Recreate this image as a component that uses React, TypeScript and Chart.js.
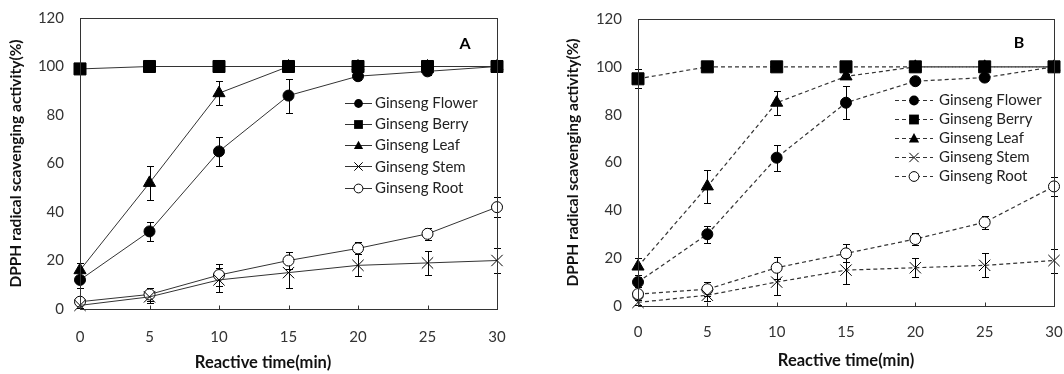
import React, { useEffect, useRef } from 'react';
import { Chart, registerables } from 'chart.js';

Chart.register(...registerables);

// ---------- data ----------
const times = [0, 5, 10, 15, 20, 25, 30];
const xTicks = [0, 5, 10, 15, 20, 25, 30];
const yTicks = [0, 20, 40, 60, 80, 100, 120];
const seriesNames = ['Ginseng Flower', 'Ginseng Berry', 'Ginseng Leaf', 'Ginseng Stem', 'Ginseng Root'];

// Panel A (solid lines)
const flowerA = [12, 32, 65, 88, 96, 98, 100];
const flowerErrA = [3.5, 4, 6, 7, 1.5, 1.5, 0.5];
const berryA = [99, 100, 100, 100, 100, 100, 100];
const berryErrA = [0.5, 0, 0, 0, 0, 0, 0];
const leafA = [16, 52, 89, 100, 100, 100, 100];
const leafErrA = [3, 7, 5, 0.5, 0, 0, 0];
const stemA = [1.5, 5, 12, 15, 18, 19, 20];
const stemErrA = [1, 2.5, 5, 6.5, 4.5, 5, 5];
const rootA = [3, 6, 14, 20, 25, 31, 42];
const rootErrA = [1, 2.5, 4.5, 3.5, 2.5, 2.5, 4];

// Panel B (dashed lines)
const flowerB = [10, 30, 62, 85, 94, 95.5, 100];
const flowerErrB = [2, 3.5, 5.5, 7, 1.5, 1.5, 0.5];
const berryB = [95, 100, 100, 100, 100, 100, 100];
const berryErrB = [4, 0, 0, 0, 0, 0, 0];
const leafB = [16.5, 50, 85, 96, 100, 100, 100];
const leafErrB = [3.5, 7, 5, 1, 0, 0, 0];
const stemB = [1.5, 4.5, 10, 15, 16, 17, 19];
const stemErrB = [1, 2.5, 5.5, 6, 4, 5, 5];
const rootB = [5, 7, 16, 22, 28, 35, 50];
const rootErrB = [1, 3, 4.6, 3.8, 2.6, 2.8, 4];

type Marker = 'dot' | 'square' | 'triangle' | 'x' | 'ring';
const markers: Marker[] = ['dot', 'square', 'triangle', 'x', 'ring'];

const FONT = 'Lato, "Open Sans", sans-serif';
const LINE = '#333333';
const TEXT = '#333333';

interface PanelCfg {
  left: number;
  width: number;
  padTop: number;
  padRight: number;
  padBottom: number;
  padLeft: number;
  xLabelDy: number;
  yLabelDx: number;
  dashed: boolean;
  letter: string;
  letterX: number;
  letterY: number;
  legX0: number;
  legX1: number;
  legTx: number;
  legY0: number;
  legDy: number;
  legMark: number;
  xTitleX: number;
  xTitleY: number;
  yTitleX: number;
  values: number[][];
  errors: number[][];
}

const panelA: PanelCfg = {
  left: 0, width: 530, padTop: 18, padRight: 33, padBottom: 65, padLeft: 80,
  xLabelDy: 28, yLabelDx: 16, dashed: false,
  letter: 'A', letterX: 465, letterY: 44,
  legX0: 345, legX1: 372, legTx: 375, legY0: 102.5, legDy: 21.3, legMark: 4.4,
  xTitleX: 263, xTitleY: 363, yTitleX: 16,
  values: [flowerA, berryA, leafA, stemA, rootA],
  errors: [flowerErrA, berryErrA, leafErrA, stemErrA, rootErrA],
};

const panelB: PanelCfg = {
  left: 530, width: 534, padTop: 19, padRight: 10, padBottom: 68, padLeft: 108,
  xLabelDy: 26.5, yLabelDx: 16, dashed: true,
  letter: 'B', letterX: 489, letterY: 43,
  legX0: 365, legX1: 403, legTx: 409, legY0: 100, legDy: 18.95, legMark: 4.9,
  xTitleX: 316, xTitleY: 361, yTitleX: 43,
  values: [flowerB, berryB, leafB, stemB, rootB],
  errors: [flowerErrB, berryErrB, leafErrB, stemErrB, rootErrB],
};

function drawMarker(ctx: CanvasRenderingContext2D, kind: Marker, x: number, y: number, s: number) {
  ctx.save();
  ctx.setLineDash([]);
  ctx.lineWidth = 1;
  ctx.strokeStyle = '#000';
  ctx.fillStyle = '#000';
  ctx.beginPath();
  if (kind === 'dot') {
    ctx.arc(x, y, s, 0, Math.PI * 2);
    ctx.fill();
  } else if (kind === 'ring') {
    ctx.arc(x, y, s, 0, Math.PI * 2);
    ctx.fillStyle = '#fff';
    ctx.fill();
    ctx.stroke();
  } else if (kind === 'square') {
    ctx.rect(x - s, y - s, 2 * s, 2 * s);
    ctx.fill();
  } else if (kind === 'triangle') {
    ctx.moveTo(x, y - s * 1.1);
    ctx.lineTo(x + s * 1.05, y + s * 0.8);
    ctx.lineTo(x - s * 1.05, y + s * 0.8);
    ctx.closePath();
    ctx.fill();
  } else {
    ctx.moveTo(x - s, y - s);
    ctx.lineTo(x + s, y + s);
    ctx.moveTo(x - s, y + s);
    ctx.lineTo(x + s, y - s);
    ctx.stroke();
  }
  ctx.restore();
}

const panelPlugin = {
  id: 'panel',
  beforeDatasetsDraw(chart: any) {
    const cfg: PanelCfg = chart.options.plugins.panel.cfg;
    const ctx: CanvasRenderingContext2D = chart.ctx;
    const ys = chart.scales.y;
    ctx.save();
    ctx.strokeStyle = '#000';
    ctx.lineWidth = 1;
    ctx.setLineDash([]);
    chart.data.datasets.forEach((ds: any, i: number) => {
      const meta = chart.getDatasetMeta(i);
      const errs = cfg.errors[i];
      errs.forEach((e: number, j: number) => {
        if (!e) return;
        const v = ds.data[j].y;
        const px = Math.round(meta.data[j].x) + 0.5;
        const t = Math.round(ys.getPixelForValue(v + e)) + 0.5;
        const b = Math.round(ys.getPixelForValue(Math.max(0, v - e))) + 0.5;
        ctx.beginPath();
        ctx.moveTo(px, t);
        ctx.lineTo(px, b);
        ctx.moveTo(px - 3.5, t);
        ctx.lineTo(px + 3.5, t);
        ctx.moveTo(px - 3.5, b);
        ctx.lineTo(px + 3.5, b);
        ctx.stroke();
      });
    });
    ctx.restore();
  },
  afterDraw(chart: any) {
    const cfg: PanelCfg = chart.options.plugins.panel.cfg;
    const ctx: CanvasRenderingContext2D = chart.ctx;
    const ca = chart.chartArea;
    const xs = chart.scales.x;
    const ys = chart.scales.y;
    ctx.save();
    // frame
    ctx.strokeStyle = LINE;
    ctx.lineWidth = 1;
    ctx.setLineDash([]);
    const l = Math.round(ca.left) + 0.5;
    const r = Math.round(ca.right) + 0.5;
    const t = Math.round(ca.top) + 0.5;
    const b = Math.round(ca.bottom) + 0.5;
    ctx.strokeRect(l, t, r - l, b - t);
    // inside x tick marks
    ctx.beginPath();
    xTicks.forEach((v) => {
      const px = Math.round(xs.getPixelForValue(v)) + 0.5;
      ctx.moveTo(px, b);
      ctx.lineTo(px, b - 4);
    });
    ctx.stroke();

    // tick labels
    ctx.fillStyle = TEXT;
    ctx.font = `15px ${FONT}`;
    ctx.textBaseline = 'middle';
    ctx.textAlign = 'center';
    xTicks.forEach((v) => {
      ctx.fillText(String(v), xs.getPixelForValue(v), ca.bottom + cfg.xLabelDy);
    });
    ctx.textAlign = 'right';
    yTicks.forEach((v) => {
      ctx.fillText(String(v), ca.left - cfg.yLabelDx, ys.getPixelForValue(v));
    });

    // panel letter
    ctx.fillStyle = '#000';
    ctx.font = `bold 16px ${FONT}`;
    ctx.textAlign = 'center';
    ctx.textBaseline = 'middle';
    ctx.fillText(cfg.letter, cfg.letterX, cfg.letterY);

    // legend
    seriesNames.forEach((name, i) => {
      const y = cfg.legY0 + i * cfg.legDy;
      ctx.save();
      ctx.strokeStyle = LINE;
      ctx.lineWidth = cfg.dashed ? 1.2 : 1;
      ctx.setLineDash(cfg.dashed ? [4, 3] : []);
      ctx.beginPath();
      ctx.moveTo(cfg.legX0, Math.round(y) + 0.5);
      ctx.lineTo(cfg.legX1, Math.round(y) + 0.5);
      ctx.stroke();
      ctx.restore();
      const mx = (cfg.legX0 + cfg.legX1) / 2;
      drawMarker(ctx, markers[i], mx, Math.round(y) + 0.5, markers[i] === 'x' ? cfg.legMark * 0.95 : cfg.legMark);
      ctx.fillStyle = '#222';
      ctx.font = `15px ${FONT}`;
      ctx.textAlign = 'left';
      ctx.textBaseline = 'middle';
      ctx.fillText(name, cfg.legTx, y + 0.5);
    });

    // axis titles
    ctx.fillStyle = '#111';
    ctx.textAlign = 'center';
    ctx.textBaseline = 'middle';
    ctx.font = `bold 16.5px ${FONT}`;
    ctx.fillText('Reactive time(min)', cfg.xTitleX, cfg.xTitleY);
    ctx.save();
    ctx.font = `bold 15.5px ${FONT}`;
    ctx.translate(cfg.yTitleX, (ca.top + ca.bottom) / 2);
    ctx.rotate(-Math.PI / 2);
    ctx.fillText('DPPH radical scavenging activity(%)', 0, 0);
    ctx.restore();
    ctx.restore();
  },
};

function buildDatasets(cfg: PanelCfg) {
  return cfg.values.map((vals, i) => {
    const m = markers[i];
    const style = m === 'dot' || m === 'ring' ? 'circle' : m === 'square' ? 'rect' : m === 'triangle' ? 'triangle' : 'crossRot';
    const radius = m === 'square' ? 8.5 : m === 'triangle' ? 7 : m === 'x' ? 8 : 5.5;
    return {
      label: seriesNames[i],
      data: vals.map((v, j) => ({ x: times[j], y: v })),
      borderColor: LINE,
      borderWidth: cfg.dashed ? 1.2 : 1,
      borderDash: cfg.dashed ? [4, 3] : [],
      pointStyle: style,
      pointRadius: radius,
      pointHoverRadius: radius,
      pointBackgroundColor: m === 'ring' ? '#ffffff' : '#000000',
      pointBorderColor: '#000000',
      pointBorderWidth: 1,
      tension: 0,
      fill: false,
      clip: false as any,
    };
  });
}

function Panel({ cfg }: { cfg: PanelCfg }) {
  const ref = useRef<HTMLCanvasElement>(null);
  useEffect(() => {
    if (!ref.current) return;
    const chart = new Chart(ref.current, {
      type: 'line',
      data: { datasets: buildDatasets(cfg) as any },
      plugins: [panelPlugin as any],
      options: {
        animation: false,
        responsive: false,
        devicePixelRatio: 1,
        events: [],
        layout: { padding: { top: cfg.padTop, right: cfg.padRight, left: cfg.padLeft, bottom: cfg.padBottom } },
        plugins: {
          legend: { display: false },
          tooltip: { enabled: false },
          panel: { cfg },
        } as any,
        scales: {
          x: {
            type: 'linear',
            min: 0,
            max: 30,
            afterBuildTicks: (s: any) => {
              s.ticks = xTicks.map((v) => ({ value: v }));
            },
            grid: { display: false, drawTicks: false },
            border: { display: false },
            ticks: { display: false },
            afterFit: (s: any) => {
              s.height = 0;
            },
          },
          y: {
            type: 'linear',
            min: 0,
            max: 120,
            afterBuildTicks: (s: any) => {
              s.ticks = yTicks.map((v) => ({ value: v }));
            },
            grid: { display: false, drawTicks: false },
            border: { display: false },
            ticks: { display: false },
            afterFit: (s: any) => {
              s.width = 0;
            },
          },
        },
      },
    });
    return () => chart.destroy();
  }, [cfg]);
  return (
    <canvas
      ref={ref}
      width={cfg.width}
      height={374}
      style={{ position: 'absolute', left: cfg.left, top: 0, width: cfg.width, height: 374 }}
    />
  );
}

export default function App() {
  return (
    <div style={{ position: 'fixed', left: 0, top: 0, width: 1064, height: 374, background: '#fff' }}>
      <Panel cfg={panelA} />
      <Panel cfg={panelB} />
    </div>
  );
}
